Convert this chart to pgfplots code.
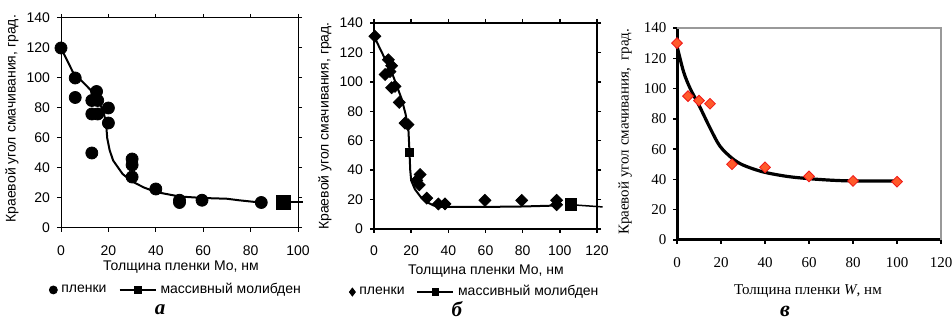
\documentclass[border=0pt]{standalone}
\usepackage{fontspec}
\setmainfont{Liberation Sans}
\newfontfamily\serifc{Liberation Serif}
\usepackage{pgfplots}
\pgfplotsset{compat=1.18}
\definecolor{dmfill}{HTML}{FF5A2A}
\definecolor{dmedge}{HTML}{F01818}
\definecolor{boxgray}{HTML}{999999}
\pgfplotsset{
  common/.style={
    scale only axis,
    anchor=south west,
    ymin=0, ymax=140,
    ytick={0,20,...,140},
    /pgf/number format/assume math mode=true,
    clip=false,
    legend cell align=left,
  },
  shortline legend/.style={
    legend image code/.code={\draw[mark repeat=2,mark phase=2,##1] plot coordinates {(0pt,0pt) (9pt,0pt) (18pt,0pt)};}
  },
}
\begin{document}
\begin{tikzpicture}
\useasboundingbox (0,0) rectangle (476pt,160pt);
% ---------------- panel a ----------------
\begin{axis}[common,
  at={(30.5pt,46pt)}, width=118.5pt, height=105pt,
  xmin=0, xmax=100, xtick={0,20,...,100},
  axis line style={line width=0.5pt},
  tick style={black, line width=0.5pt},
  tick align=outside, major tick length=2pt,
  tick label style={font=\fontsize{7}{8}\selectfont},
  xticklabel style={yshift=-3.2pt},
  xlabel={Толщина пленки Mo, нм},
  ylabel={Краевой угол смачивания, град.},
  label style={font=\fontsize{7}{8}\selectfont},
  xlabel style={at={(axis description cs:0.506,-0.186)}, anchor=center},
  ylabel style={at={(axis description cs:-0.207,0.52)}, anchor=center},
  legend columns=2,
  legend style={draw=none, fill=none, font=\fontsize{7}{8}\selectfont,
    at={(axis description cs:0.49,-0.295)}, anchor=center,
    /tikz/every even column/.append style={column sep=4pt},
    inner sep=0pt},
]
\addlegendimage{only marks, mark=*, mark size=2pt, black}
\addlegendentry{пленки}
\addlegendimage{black, line width=1pt, mark=square*, mark size=1.5pt, shortline legend}
\addlegendentry{массивный молибден}
\addplot[black, line width=1pt, forget plot] coordinates {
(0,120) (5,104) (10,96) (15,88) (18,77) (19,70) (19.5,60) (20.5,52) (22,45)
(26,36) (30,31) (35,27) (40,24) (50,21) (60,20) (70,19.5) (75,18.5) (84,17)};
\addplot[only marks, mark=*, mark size=3pt, black, forget plot] coordinates {
(0,120) (6,100) (6,87) (13,85) (13,76) (13,50) (15,91) (15.5,85) (15.5,76)
(20,80) (20,70) (30,46) (30,42) (30,34) (40,26) (50,18.5) (50,17) (59.5,18.5) (84.5,17)};
\addplot[black, line width=1pt, mark=square*, mark size=3.2pt, mark indices={1}, forget plot]
  coordinates {(94,17) (102,17)};
\node[font=\serifc\bfseries\itshape\fontsize{10.5}{12}\selectfont] at (axis description cs:0.418,-0.39) {а};
\end{axis}
% ---------------- panel b ----------------
\begin{axis}[common,
  at={(187pt,45.5pt)}, width=111.5pt, height=103pt,
  xmin=0, xmax=120, xtick={0,20,...,120},
  axis line style={line width=0.75pt},
  tick style={black, line width=0.75pt},
  tick align=outside, major tick length=2pt,
  tick label style={font=\fontsize{7}{8}\selectfont},
  xticklabel style={yshift=-2.7pt},
  xlabel={Толщина пленки Mo, нм},
  ylabel={Краевой угол смачивания, град.},
  label style={font=\fontsize{7}{8}\selectfont},
  xlabel style={at={(axis description cs:0.502,-0.204)}, anchor=center},
  ylabel style={at={(axis description cs:-0.22,0.5)}, anchor=center},
  legend columns=2,
  legend style={draw=none, fill=none, font=\fontsize{7}{8}\selectfont,
    at={(axis description cs:0.457,-0.306)}, anchor=center,
    /tikz/every even column/.append style={column sep=4pt},
    inner sep=0pt},
]
\addlegendimage{only marks, mark=diamond*, mark size=2pt, black}
\addlegendentry{пленки}
\addlegendimage{black, line width=0.75pt, mark=square*, mark size=1.5pt, shortline legend}
\addlegendentry{массивный молибден}
\addplot[black, line width=1pt, forget plot] coordinates {
(0,131) (5,118) (10,105) (15,88) (17,78) (18.5,68) (19,55) (19.5,40) (20,33)
(22,27) (25,22) (28,18.5) (32,16) (36,15) (40,15) (60,15) (80,15.3) (100,16)};
\addplot[only marks, mark=square*, mark size=2pt, black, forget plot] coordinates {(19,52)};
\addplot[only marks, mark=square*, mark options={rotate=45}, mark size=2.1pt, black, forget plot] coordinates {
(0.5,131) (6,105) (7.7,115) (9.5,111) (8.6,107) (9.5,96) (11.3,97) (13.6,86)
(16.7,72) (18.3,71) (24.8,37) (23,33) (24.4,30) (28.4,21) (34.6,17) (38.2,17)
(59.7,19.5) (79.5,19.5) (98.3,19.5) (98.3,16.5)};
\addplot[black, line width=0.75pt, mark=square*, mark size=2.8pt, mark indices={1}, forget plot]
  coordinates {(106,16.5) (123,15)};
\node[font=\serifc\bfseries\itshape\fontsize{10.5}{12}\selectfont] at (axis description cs:0.372,-0.39) {б};
\end{axis}
% ---------------- panel c ----------------
\begin{axis}[common,
  at={(338.5pt,40pt)}, width=132pt, height=106pt,
  xmin=0, xmax=120, xtick={0,20,...,120},
  axis x line*=bottom, axis y line*=left,
  axis line style={line width=1.5pt, -},
  tick style={black, line width=0.75pt},
  tick align=outside, major tick length=1.8pt,
  tick label style={font=\serifc\fontsize{7.5}{8}\selectfont},
  xticklabel style={yshift=-3.2pt},
  xlabel={Толщина пленки \textit{W}, нм},
  ylabel={Краевой угол смачивания,\ \ град.},
  label style={font=\serifc\fontsize{7.5}{8}\selectfont},
  xlabel style={at={(axis description cs:0.496,-0.24)}, anchor=center},
  ylabel style={at={(axis description cs:-0.197,0.51)}, anchor=center},
]
\draw[boxgray, line width=1.2pt] (rel axis cs:0,1) -- (rel axis cs:1,1) -- (rel axis cs:1,0);
\addplot[black, line width=1.6pt, smooth, tension=0.5] coordinates {
(0,128) (3,111) (6,100) (10,89) (15,74) (19.5,62) (25,54) (30,49.5) (39,45)
(50,42) (60,40.5) (70,39.5) (80,39) (100,39)};
\addplot[only marks, mark=square*, mark options={rotate=45, fill=dmfill, draw=dmedge, line width=0.4pt}, mark size=1.9pt] coordinates {
(0,130) (5,95) (10,92) (15,90) (25,50) (40,48) (60,42) (80,39) (100,38.5)};
\node[font=\serifc\bfseries\itshape\fontsize{11}{12}\selectfont] at (axis description cs:0.409,-0.335) {в};
\end{axis}
\end{tikzpicture}
\end{document}
